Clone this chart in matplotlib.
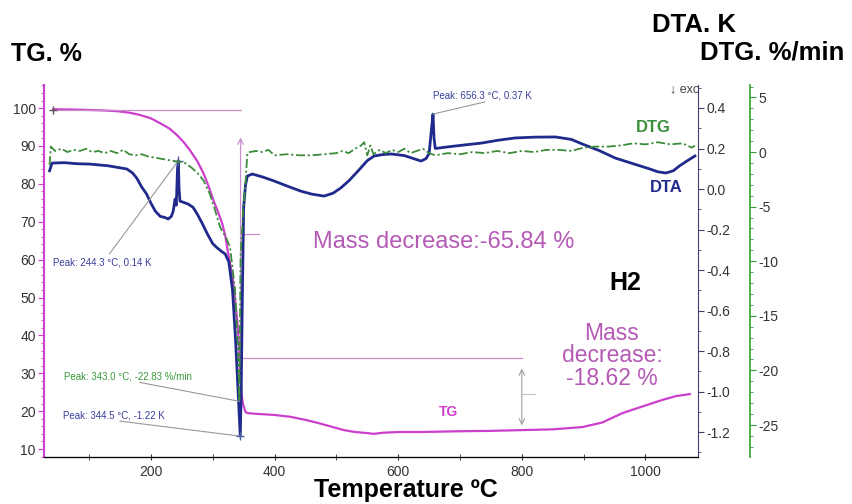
import matplotlib
matplotlib.use("Agg")
import matplotlib.pyplot as plt
from matplotlib.ticker import MultipleLocator

plt.rcParams['font.family'] = ['Liberation Sans', 'DejaVu Sans']
plt.rcParams['axes.unicode_minus'] = False

# TG curve (%)
tg_temp = [42, 80, 120, 145, 165, 182, 200, 215, 230, 242, 253, 263, 275, 285, 293, 301, 308, 315,
           320, 324, 328, 332, 336, 340, 343, 345, 347, 349, 353, 356, 370, 400, 426, 450, 470, 490,
           512, 530, 551, 560, 575, 600, 637, 700, 750, 800, 850, 898, 930, 963, 1000, 1028, 1050, 1072]
tg_val = [99.7, 99.6, 99.4, 99.2, 98.8, 98.2, 97.3, 96.0, 94.6, 92.9, 91.0, 88.9, 86.0, 82.8, 79.5, 75.7,
          72.8, 69.7, 66.5, 62.5, 59.0, 55.4, 49.5, 43.3, 36.0, 28.2, 24.0, 21.8, 19.8, 19.5, 19.3, 19.0,
          18.5, 17.7, 16.9, 16.0, 15.0, 14.5, 14.2, 14.0, 14.3, 14.5, 14.5, 14.7, 14.8, 15.0, 15.2, 15.8,
          17.0, 19.5, 21.5, 23.0, 24.0, 24.5]

# DTA curve (K)
dta_temp = [36, 40, 60, 80, 101, 130, 161, 170, 177, 185, 193, 200, 207, 215, 222, 228, 233, 236, 239,
            241, 243, 244.3, 245.5, 247, 252, 260, 268, 275, 283, 291, 300, 307, 315, 320, 326, 332, 337,
            341, 344.5, 346, 348, 350, 353, 356, 364, 380, 399, 420, 442, 460, 480, 495, 507, 520, 535,
            550, 561, 575, 589, 610, 637, 645, 650, 654, 656.3, 658, 660, 680, 700, 735, 760, 789, 820,
            854, 880, 898, 925, 951, 980, 1007, 1020, 1033, 1045, 1055, 1068, 1080]
dta_val = [0.09, 0.128, 0.13, 0.125, 0.123, 0.115, 0.099, 0.08, 0.054, 0.01, -0.025, -0.07, -0.109,
           -0.135, -0.14, -0.148, -0.135, -0.11, -0.05, -0.08, 0.10, 0.14, 0.0, -0.06, -0.065, -0.074,
           -0.09, -0.124, -0.17, -0.22, -0.27, -0.29, -0.31, -0.32, -0.36, -0.5, -0.75, -1.0, -1.22, -1.0,
           -0.5, -0.09, 0.02, 0.064, 0.074, 0.06, 0.04, 0.015, -0.01, -0.025, -0.035, -0.02, 0.005, 0.04,
           0.089, 0.14, 0.163, 0.17, 0.173, 0.165, 0.138, 0.15, 0.175, 0.3, 0.37, 0.25, 0.2, 0.208, 0.215,
           0.227, 0.24, 0.252, 0.256, 0.257, 0.245, 0.222, 0.19, 0.153, 0.125, 0.099, 0.085, 0.079, 0.09,
           0.114, 0.14, 0.163]

# DTG curve (%/min)
dtg_temp = [36, 38, 45, 55, 65, 75, 85, 95, 105, 115, 125, 135, 145, 155, 165, 175, 185, 195, 205, 215,
            225, 235, 245, 255, 265, 275, 285, 295, 302, 312, 322, 328, 336, 341, 343, 345, 349, 353, 356,
            360, 370, 380, 390, 400, 420, 440, 460, 480, 500, 510, 520, 530, 540, 545, 550, 555, 560, 570,
            580, 590, 600, 610, 620, 630, 640, 650, 660, 670, 680, 700, 720, 740, 760, 780, 800, 820, 840,
            860, 880, 900, 920, 940, 960, 980, 1000, 1020, 1040, 1060, 1075, 1080]
dtg_val = [-1.2, 0.5, 0.1, 0.3, 0.0, 0.2, 0.1, 0.3, 0.0, 0.1, -0.1, 0.1, -0.1, 0.2, -0.2, -0.3, -0.2,
           -0.4, -0.5, -0.6, -0.7, -0.8, -0.9, -1.0, -1.4, -1.9, -2.6, -3.8, -5.0, -6.9, -7.9, -8.7, -12.6,
           -18.1, -22.83, -9.6, -5.5, -2.8, -0.1, 0.0, 0.1, 0.0, 0.2, -0.3, -0.2, -0.3, -0.3, -0.2, -0.1,
           0.1, -0.1, 0.3, 0.6, 0.9, -0.3, 0.6, -0.2, 0.2, -0.1, 0.2, 0.0, 0.3, -0.1, 0.1, 0.3, -0.1, -0.3,
           -0.2, -0.1, -0.2, 0.0, -0.1, 0.1, -0.1, 0.1, 0.0, 0.2, 0.2, 0.1, 0.4, 0.5, 0.5, 0.6, 0.8, 0.7,
           0.9, 0.7, 0.8, 0.4, 0.6]

tg_col = '#cc3fcc'
dta_col = '#1f2a8c'
dtg_col = '#3c8c3c'
txt_mag = '#b55ab5'

fig = plt.figure(figsize=(8.52, 5.04), dpi=100)
ax = fig.add_axes([44 / 852, 1 - 457 / 504, 654 / 852, 372 / 504])
ax2 = ax.twinx()
ax3 = ax.twinx()
ax3.spines['right'].set_position(('axes', 1 + 52 / 654))

ax.set_xlim(27, 1085)
ax.set_ylim(7.9, 106.1)
ax2.set_ylim(-1.323, 0.5135)
ax3.set_ylim(-27.93, 6.14)

for a in (ax, ax2, ax3):
    a.spines['top'].set_visible(False)
ax.spines['right'].set_visible(False)
ax2.spines['left'].set_visible(False)
ax3.spines['left'].set_visible(False)
ax.spines['left'].set_color('#d040d0')
ax.spines['left'].set_linewidth(1.5)
ax2.spines['right'].set_color('#404070')
ax3.spines['right'].set_color('#30a030')
ax3.spines['right'].set_linewidth(1.2)

ax.xaxis.set_major_locator(MultipleLocator(200))
ax.xaxis.set_minor_locator(MultipleLocator(100))
ax.yaxis.set_major_locator(MultipleLocator(10))
ax.yaxis.set_minor_locator(MultipleLocator(2))
ax2.yaxis.set_major_locator(MultipleLocator(0.2))
ax2.yaxis.set_minor_locator(MultipleLocator(0.1))
ax3.yaxis.set_major_locator(MultipleLocator(5))
ax3.yaxis.set_minor_locator(MultipleLocator(1))

ax.tick_params(axis='x', which='both', direction='inout', length=5, labelsize=10, colors='#333333')
ax.tick_params(axis='y', which='major', colors='#d040d0', labelcolor='#333333', labelsize=10, length=4, pad=2)
ax.tick_params(axis='y', which='minor', colors='#d040d0', length=2)
ax2.tick_params(axis='y', which='major', colors='#404070', labelcolor='#333333', labelsize=10, length=4, pad=2)
ax2.tick_params(axis='y', which='minor', colors='#404070', length=2)
ax3.tick_params(axis='y', which='major', colors='#30a030', labelcolor='#333333', labelsize=10, length=4, pad=2)
ax3.tick_params(axis='y', which='minor', colors='#30a030', length=2)
ax2.yaxis.set_major_formatter(matplotlib.ticker.FormatStrFormatter('%.1f'))

ax3.plot(dtg_temp, dtg_val, color=dtg_col, lw=1.3, ls=(0, (5, 1.5, 1.2, 1.5)))
ax.plot(tg_temp, tg_val, color=tg_col, lw=1.6)
ax2.plot(dta_temp, dta_val, color=dta_col, lw=2.0)

# mass decrease markers
lc = '#c890c8'
ax.plot([42, 345], [99.5, 99.5], color=lc, lw=0.9)
ax.plot([42], [99.5], marker='+', color='#555555', ms=6)
ax.annotate('', xy=(345, 93), xytext=(345, 34), arrowprops=dict(arrowstyle='->', color=lc, lw=0.9))
ax.plot([345, 375], [66.7, 66.7], color=lc, lw=0.9)
ax.plot([345, 800], [34, 34], color=lc, lw=0.9)
ax.annotate('', xy=(800, 15.5), xytext=(800, 32), arrowprops=dict(arrowstyle='<->', color='#a0a0a0', lw=0.8))
ax.plot([800, 822], [24.5, 24.5], color='#c0c0c0', lw=0.8)

# peak labels
ax2.plot([133, 244.3], [-0.32, 0.14], color='#999999', lw=0.8)
ax2.plot([244.3], [0.14], marker='+', color='#5060a0', ms=7)
ax2.text(41, -0.365, 'Peak: 244.3 °C, 0.14 K', color='#3a3f9a', fontsize=7, va='center')
ax2.plot([656.3, 740], [0.37, 0.43], color='#999999', lw=0.8)
ax2.text(657, 0.464, 'Peak: 656.3 °C, 0.37 K', color='#3a3f9a', fontsize=7, va='center')
ax3.plot([182, 343], [-21.1, -22.83], color='#999999', lw=0.8)
ax3.text(60, -20.6, 'Peak: 343.0 °C, -22.83 %/min', color='#3a9a3a', fontsize=7, va='center')
ax2.plot([150, 344.5], [-1.146, -1.22], color='#999999', lw=0.8)
ax2.plot([344.5], [-1.22], marker='+', color='#5060a0', ms=6)
ax2.text(57, -1.116, 'Peak: 344.5 °C, -1.22 K', color='#3a3f9a', fontsize=7, va='center')

ax.text(444 / 852, 1 - 242 / 504, 'Mass decrease:-65.84 %', transform=fig.transFigure, color=txt_mag,
        fontsize=17, ha='center', va='center')
ax.text(612 / 852, 1 - 356 / 504, 'Mass\ndecrease:\n-18.62 %', transform=fig.transFigure, color=txt_mag,
        fontsize=16.5, ha='center', va='center', linespacing=0.95)
ax.text(625 / 852, 1 - 283 / 504, 'H2', transform=fig.transFigure, fontsize=18, fontweight='bold',
        ha='center', va='center')
ax.text(448 / 852, 1 - 412 / 504, 'TG', transform=fig.transFigure, color=tg_col, fontsize=10,
        fontweight='bold', ha='center', va='center')
ax.text(653 / 852, 1 - 127 / 504, 'DTG', transform=fig.transFigure, color='#3a8f3a', fontsize=12,
        fontweight='bold', ha='center', va='center')
ax.text(666 / 852, 1 - 188 / 504, 'DTA', transform=fig.transFigure, color=dta_col, fontsize=12,
        fontweight='bold', ha='center', va='center')
# exo hint, cut off by the DTA spine like in the original
ax.text((670 - 44) / 654, (457 - 89) / 372, '↓ exo', transform=ax.transAxes, color='#444444',
        fontsize=9, ha='left', va='center', clip_on=True)

# axis titles
fig.text(46 / 852, 1 - 54 / 504, 'TG. %', fontsize=18, fontweight='bold', ha='center', va='center')
fig.text(694 / 852, 1 - 25 / 504, 'DTA. K', fontsize=18.5, fontweight='bold', ha='center', va='center')
fig.text(772 / 852, 1 - 53 / 504, 'DTG. %/min', fontsize=18.5, fontweight='bold', ha='center', va='center')
fig.text(406 / 852, 1 - 490 / 504, 'Temperature ºC', fontsize=18, fontweight='bold', ha='center', va='center')

fig.savefig('out.png', dpi=100)
